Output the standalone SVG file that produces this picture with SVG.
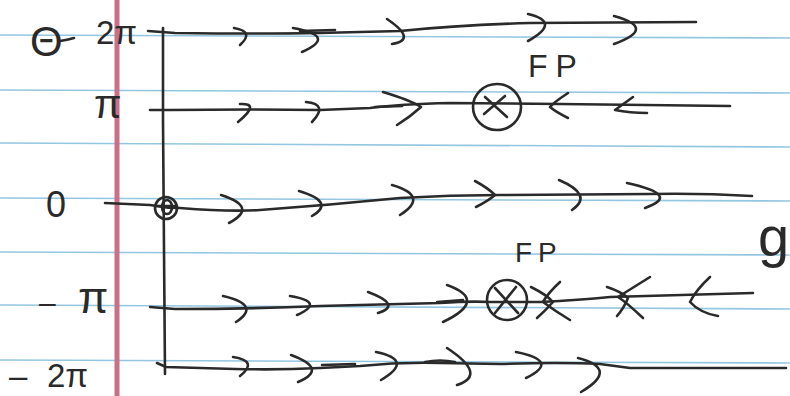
<svg xmlns="http://www.w3.org/2000/svg" width="790" height="396" viewBox="0 0 790 396">
<style>
.rule{stroke:#93c6e0;stroke-width:1.6;fill:none}
.margin{stroke:#c96f88;stroke-width:5;fill:none}
.ink{stroke:#2a2a2a;stroke-width:2.6;fill:none;stroke-linecap:round;stroke-linejoin:round}
.lbl{font-family:"Liberation Sans","DejaVu Sans",sans-serif;fill:#2a2a2a}
</style>
<rect width="790" height="396" fill="#ffffff"/>
<g id="paper">
<path class="rule" d="M0 35 L790 38"/>
<path class="rule" d="M0 90 L790 93"/>
<path class="rule" d="M0 143 L790 147"/>
<path class="rule" d="M0 198 L790 201"/>
<path class="rule" d="M0 252 L790 255"/>
<path class="rule" d="M0 305 L790 309"/>
<path class="rule" d="M0 360 L790 363"/>
<path class="margin" d="M117 0 L117 396"/>
</g>
<g id="labels">
<text class="lbl" x="30" y="56" font-size="42">Θ</text>
<path class="ink" d="M60 41 Q67 40 74 38"/>
<text class="lbl" x="96" y="44" font-size="33">2π</text>
<text class="lbl" x="94" y="118" font-size="40">π</text>
<text class="lbl" x="56" y="217" font-size="36" text-anchor="middle">0</text>
<text class="lbl" y="313" font-size="44"><tspan x="39" font-size="30">–</tspan><tspan x="78">π</tspan></text>
<text class="lbl" y="387" font-size="33"><tspan x="9">–</tspan><tspan x="47">2π</tspan></text>
<text class="lbl" x="758" y="256" font-size="56">g</text>
</g>
<g id="axis">
<path class="ink" d="M163 28 L163 120 L164 250 L165 374"/>
</g>
<g id="connectors">
<g id="row-2pi">
<path class="ink" d="M148 31 L175 33 Q260 34 320 33 L400 31 Q460 25 530 23 L696 22"/>
<path class="ink" d="M300 31 L335 30"/>
<path class="ink" d="M234 28 Q255 31.5 240 45"/>
<path class="ink" d="M293 28 Q338 36 302 52"/>
<path class="ink" d="M387 19 Q418 40 392 44"/>
<path class="ink" d="M528 14 Q562 22 528 41"/>
<path class="ink" d="M614 16 Q658 28 614 44"/>
</g>
<g id="row-pi">
<path class="ink" d="M150 110 L170 110 Q250 109 320 110 L370 108 Q400 104 450 103 L560 104 L730 106"/>
<path class="ink" d="M375 107 L402 106"/>
<path class="ink" d="M240 104 Q261 103 238 122"/>
<path class="ink" d="M306 102 Q329 104 312 122"/>
<path class="ink" d="M383 92 Q410 100 421 107 Q410 117 397 125"/>
<path class="ink" d="M568 93 Q553 103 550 107 Q556 112 568 118"/>
<path class="ink" d="M633 97 L615 110 Q630 113 647 113"/>
</g>
<g id="row-0">
<path class="ink" d="M105 203 L150 205 Q165 208 180 208 Q230 212 260 210 Q330 205 400 198 Q450 195 500 195 L650 194 Q700 193 752 196"/>
<path class="ink" d="M221 195 Q259 207 229 223"/>
<path class="ink" d="M299 191 Q336 202 312 216"/>
<path class="ink" d="M392 185 Q430 196 400 215"/>
<path class="ink" d="M475 181 Q488 188 495 195 Q488 201 476 207"/>
<path class="ink" d="M559 180 Q594 195 572 210"/>
<path class="ink" d="M627 183 Q682 195 645 208"/>
</g>
<g id="row-minus-pi">
<path class="ink" d="M150 307 L175 309 Q250 309 320 306 L440 303 Q470 301 490 302 L540 302 Q580 300 610 297 L753 293"/>
<path class="ink" d="M437 302 L463 300"/>
<path class="ink" d="M223 296 Q262 305 236 322"/>
<path class="ink" d="M290 296 Q326 302 297 315"/>
<path class="ink" d="M368 292 Q403 305 378 313"/>
<path class="ink" d="M447 285 Q489 300 443 322"/>
<path class="ink" d="M531 287 Q547 295 553 302 Q546 310 537 318"/>
<path class="ink" d="M560 282 Q548 293 543 302 Q555 311 570 320"/>
<path class="ink" d="M650 277 L618 297 Q626 302 643 318"/>
<path class="ink" d="M607 287 Q622 292 628 298 Q624 308 617 316"/>
<path class="ink" d="M710 277 Q696 290 690 302 Q700 313 718 316"/>
</g>
<g id="row-minus-2pi">
<path class="ink" d="M157 363 L166 367 L235 369 Q280 370 320 368 L360 366 Q400 362 440 363 L500 364 Q560 362 600 364 L630 368 L786 368"/>
<path class="ink" d="M322 365 L355 364"/>
<path class="ink" d="M425 362 Q440 359 455 362"/>
<path class="ink" d="M233 357 Q259 361 240 376"/>
<path class="ink" d="M291 355 Q329 369 298 382"/>
<path class="ink" d="M376 352 Q415 360 381 380"/>
<path class="ink" d="M447 348 Q488 375 457 385"/>
<path class="ink" d="M516 352 Q561 361 526 378"/>
<path class="ink" d="M578 358 Q620 369 581 392"/>
</g>
</g>
<g id="node-origin">
<circle class="ink" cx="166" cy="208" r="11"/>
<ellipse class="ink" cx="167" cy="207" rx="5" ry="7"/>
<path class="ink" d="M156 206 L177 206"/>
</g>
<g id="node-fp-pi">
<ellipse class="ink" cx="497" cy="107" rx="24" ry="23"/>
<path class="ink" d="M485 97 L507 117 M505 96 L484 114"/>
<text class="lbl" x="528" y="77" font-size="32" letter-spacing="8">FP</text>
</g>
<g id="node-fp-minus-pi">
<circle class="ink" cx="507" cy="300" r="20"/>
<path class="ink" d="M495 288 L518 313 M516 287 L495 313"/>
<text class="lbl" x="515" y="262" font-size="28" letter-spacing="6">FP</text>
</g>
</svg>
